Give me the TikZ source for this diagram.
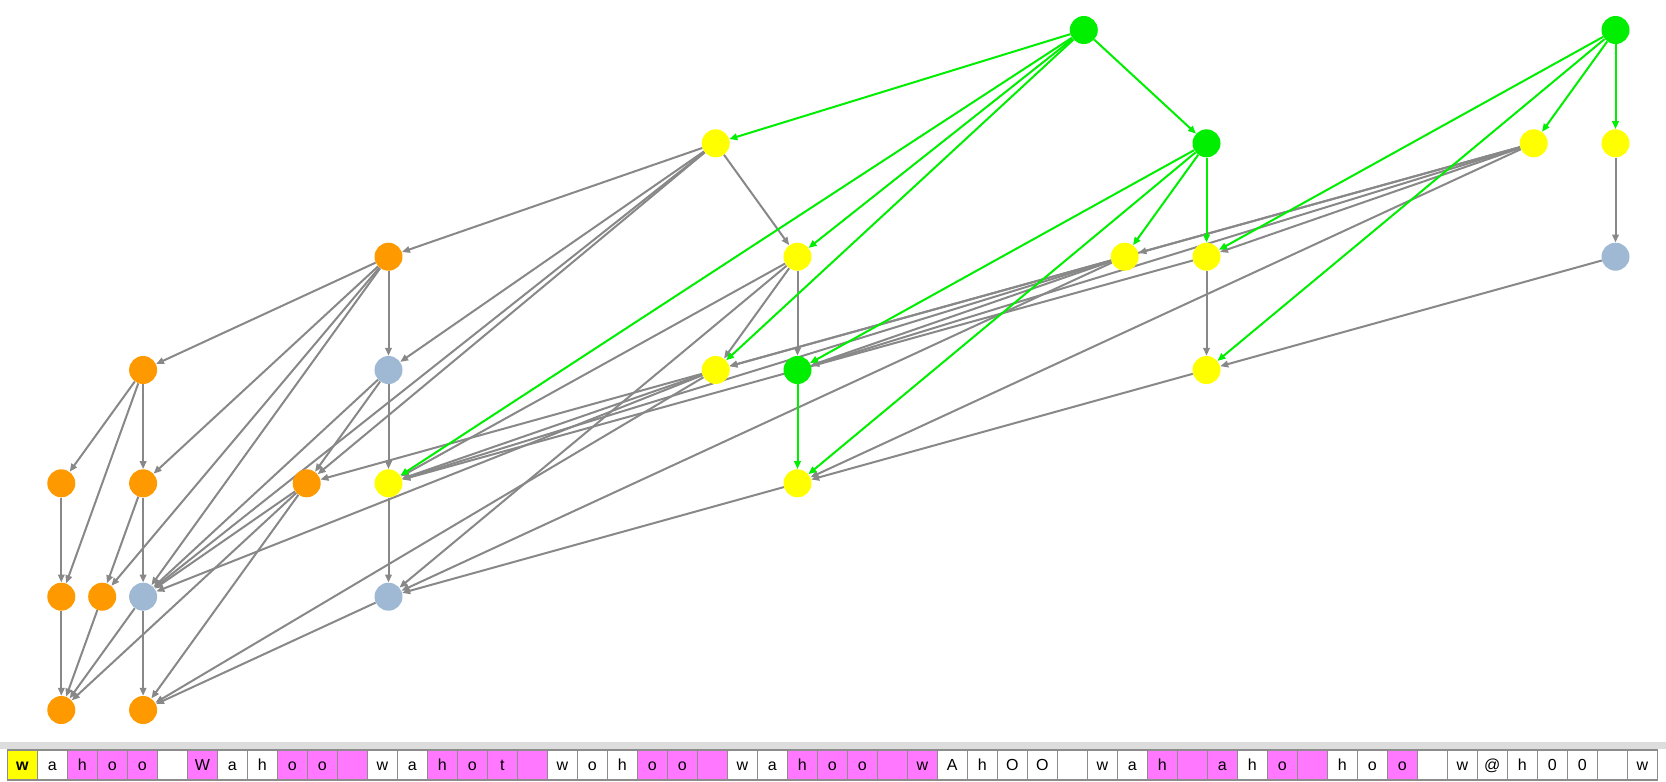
\documentclass[tikz,border=0pt]{standalone}
\usepackage{fontspec}
\setmainfont{Liberation Sans}
\usetikzlibrary{arrows.meta,backgrounds}

\definecolor{hitgreen}{HTML}{00EE00}
\definecolor{nodeyellow}{HTML}{FFFF00}
\definecolor{nodeorange}{HTML}{FF9900}
\definecolor{nodeblue}{HTML}{9FB9D4}
\definecolor{edgegray}{HTML}{888888}
\definecolor{cellline}{HTML}{8C8C8C}
\definecolor{hl}{HTML}{FFFF00}
\definecolor{mg}{HTML}{FF78FF}
\definecolor{band}{HTML}{DDDDDD}

\tikzset{
  vtx/.style={circle, minimum size=28pt, inner sep=0pt},
  gedge/.style={-{Triangle[length=8pt,width=6.5pt]}, draw=edgegray, line width=2pt},
  hedge/.style={gedge, draw=hitgreen},
  cell/.style={draw=cellline, line width=1.2pt, minimum width=30pt, minimum height=30pt,
    inner sep=0pt, text height=11.4pt, text depth=0pt, font=\fontsize{16}{16}\selectfont}
}

\begin{document}
\begin{tikzpicture}[x=1pt,y=-1pt]
            \useasboundingbox (0,0) rectangle (1666,782);

            % top rows
            \node[vtx, fill=hitgreen] (a1) at (1083.8,30) {};
            \node[vtx, fill=hitgreen] (a2) at (1615.5,30) {};
            \node[vtx, fill=nodeyellow] (b1) at (715.7,143.3) {};
            \node[vtx, fill=hitgreen] (b2) at (1206.5,143.3) {};
            \node[vtx, fill=nodeyellow] (b3) at (1533.7,143.3) {};
            \node[vtx, fill=nodeyellow] (b4) at (1615.5,143.3) {};
            \node[vtx, fill=nodeorange] (c1) at (388.5,256.7) {};
            \node[vtx, fill=nodeyellow] (c2) at (797.5,256.7) {};
            \node[vtx, fill=nodeyellow] (c3) at (1124.7,256.7) {};
            \node[vtx, fill=nodeyellow] (c4) at (1206.5,256.7) {};
            \node[vtx, fill=nodeblue] (c5) at (1615.5,256.7) {};
            \node[vtx, fill=nodeorange] (d1) at (143.1,370) {};
            \node[vtx, fill=nodeblue] (d2) at (388.5,370) {};
            \node[vtx, fill=nodeyellow] (d3) at (715.7,370) {};
            \node[vtx, fill=hitgreen] (d4) at (797.5,370) {};
            \node[vtx, fill=nodeyellow] (d5) at (1206.5,370) {};
            % lower rows
            \node[vtx, fill=nodeorange] (e1) at (61.3,483.3) {};
            \node[vtx, fill=nodeorange] (e2) at (143.1,483.3) {};
            \node[vtx, fill=nodeorange] (e3) at (306.7,483.3) {};
            \node[vtx, fill=nodeyellow] (e4) at (388.5,483.3) {};
            \node[vtx, fill=nodeyellow] (e5) at (797.5,483.3) {};
            \node[vtx, fill=nodeorange] (f1) at (61.3,596.7) {};
            \node[vtx, fill=nodeorange] (f2) at (102.2,596.7) {};
            \node[vtx, fill=nodeblue] (f3) at (143.1,596.7) {};
            \node[vtx, fill=nodeblue] (f4) at (388.5,596.7) {};
            \node[vtx, fill=nodeorange] (g1) at (61.3,710) {};
            \node[vtx, fill=nodeorange] (g2) at (143.1,710) {};

            \begin{pgfonlayer}{background}
            % gray edges
            \draw[gedge] (b1) to (c1); \draw[gedge] (b1) to (c2); \draw[gedge] (b1) to (d2);
            \draw[gedge] (b1) to (e3); \draw[gedge] (b1) to (f3);
            \draw[gedge] (c1) to (d1); \draw[gedge] (c1) to (d2); \draw[gedge] (c1) to (e2);
            \draw[gedge] (c1) to (f2); \draw[gedge] (c1) to (f3);
            \draw[gedge] (d1) to (e1); \draw[gedge] (d1) to (e2); \draw[gedge] (d1) to (f1);
            \draw[gedge] (e1) to (f1);
            \draw[gedge] (e2) to (f2); \draw[gedge] (e2) to (f3);
            \draw[gedge] (f1) to (g1); \draw[gedge] (f2) to (g1);
            \draw[gedge] (f3) to (g1); \draw[gedge] (f3) to (g2);
            \draw[gedge] (e3) to (f3); \draw[gedge] (e3) to (g1); \draw[gedge] (e3) to (g2);
            \draw[gedge] (d2) to (e4); \draw[gedge] (d2) to (e3); \draw[gedge] (d2) to (f3);
            \draw[gedge] (e4) to (f4); \draw[gedge] (f4) to (g2);
            \draw[gedge] (c2) to (d3); \draw[gedge] (c2) to (d4);
            \draw[gedge] (c2) to (e4); \draw[gedge] (c2) to (f4);
            \draw[gedge] (d3) to (e3); \draw[gedge] (d3) to (e4);
            \draw[gedge] (d3) to (f3); \draw[gedge] (d3) to (g2);
            \draw[gedge] (c3) to (d3); \draw[gedge] (c3) to (d4);
            \draw[gedge] (c3) to (e4); \draw[gedge] (c3) to (f4);
            \draw[gedge] (c4) to (d5); \draw[gedge] (c4) to (e4);
            \draw[gedge] (b3) to (c3); \draw[gedge] (b3) to (c4); \draw[gedge] (b3) to (d3);
            \draw[gedge] (b3) to (d4); \draw[gedge] (b3) to (e5);
            \draw[gedge] (b4) to (c5); \draw[gedge] (c5) to (d5);
            \draw[gedge] (d5) to (e5); \draw[gedge] (e5) to (f4);

            % green edges
            \draw[hedge] (a1) to (b1); \draw[hedge] (a1) to (b2); \draw[hedge] (a1) to (c2);
            \draw[hedge] (a1) to (d3); \draw[hedge] (a1) to (e4);
            \draw[hedge] (a2) to (b3); \draw[hedge] (a2) to (b4);
            \draw[hedge] (a2) to (c4); \draw[hedge] (a2) to (d5);
            \draw[hedge] (b2) to (c3); \draw[hedge] (b2) to (c4);
            \draw[hedge] (b2) to (d4); \draw[hedge] (b2) to (e5);
            \draw[hedge] (d4) to (e5);
            \end{pgfonlayer}

            % text strip
            \fill[band] (0,742) rectangle (1666,749);
            \foreach \ch/\fc [count=\i from 0] in {{\textbf{w}}/hl, a/white, h/mg, o/mg, o/mg, {}/white,
                W/mg, a/white, h/white, o/mg, o/mg, {}/mg,
                w/white, a/white, h/mg, o/mg, t/mg, {}/mg,
                w/white, o/white, h/white, o/mg, o/mg, {}/mg,
                w/white, a/white, h/mg, o/mg, o/mg, {}/mg,
                w/mg, A/white, h/white, O/white, O/white, {}/white,
                w/white, a/white, h/mg, {}/mg, a/mg, h/white, o/mg, {}/mg,
                h/white, o/white, o/mg, {}/white,
                w/white, @/white, h/white, 0/white, 0/white, {}/white, w/white}
              \node[cell, fill=\fc] (s\i) at ({22.3+30*\i},765) {\ch};
\end{tikzpicture}
\end{document}
